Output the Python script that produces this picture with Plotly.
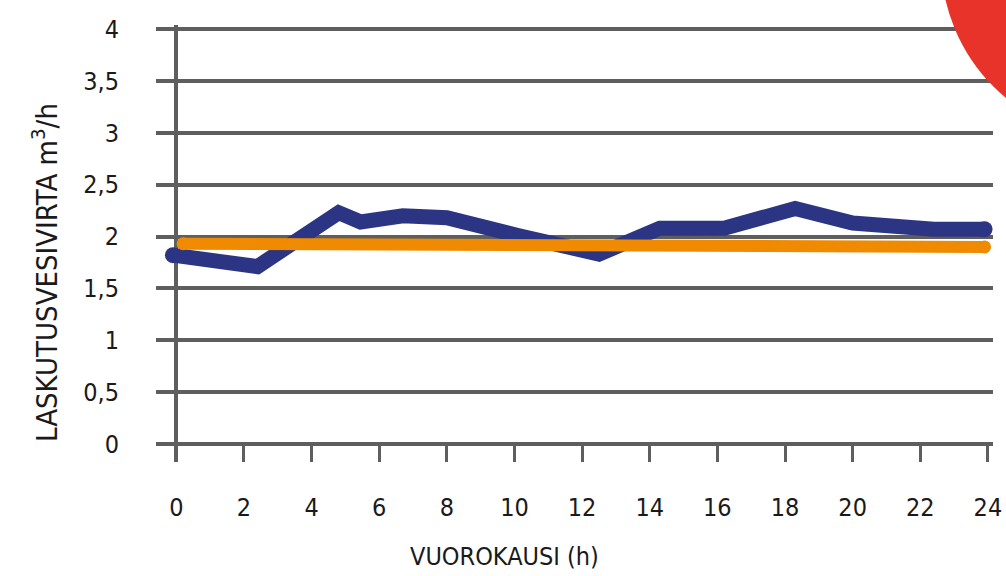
import plotly.graph_objects as go

# Data
hours_blue = [-0.1, 2.4, 4.8, 5.45, 6.7, 8.0, 10.1, 12.5, 14.3, 16.2, 18.3, 20.0, 22.4, 23.9]
flow_blue = [1.82, 1.71, 2.23, 2.14, 2.20, 2.18, 2.01, 1.83, 2.08, 2.08, 2.27, 2.13, 2.07, 2.07]
hours_orange = [0.2, 23.9]
flow_orange = [1.93, 1.90]
x_ticks = list(range(0, 25, 2))
y_ticks = [0, 0.5, 1, 1.5, 2, 2.5, 3, 3.5, 4]
y_tick_text = ["0", "0,5", "1", "1,5", "2", "2,5", "3", "3,5", "4"]

BLUE = "#2B3583"
ORANGE = "#F08A00"
GRID = "#5E5E5E"
TEXT = "#1a1a1a"
FONT = "DejaVu Sans Condensed, Liberation Sans Narrow, sans-serif"

W, H = 1006, 576
ML, MR, MT, MB = 156, 13, 25, 114

fig = go.Figure()
fig.add_trace(go.Scatter(
    x=hours_blue, y=flow_blue, mode="lines+markers",
    line=dict(color=BLUE, width=15),
    marker=dict(color=BLUE, opacity=1, size=[16] + [0] * (len(hours_blue) - 2) + [16], line=dict(width=0)),
    hoverinfo="skip", showlegend=False))
fig.add_trace(go.Scatter(
    x=hours_orange, y=flow_orange, mode="lines+markers",
    line=dict(color=ORANGE, width=12),
    marker=dict(color=ORANGE, opacity=1, size=13, line=dict(width=0)),
    hoverinfo="skip", showlegend=False))

pw = W - ML - MR
ph = H - MT - MB

def px_x(p):
    return (p - ML) / pw

def px_y(p):
    return (H - MB - p) / ph

# decorative red circle in the top-right corner
fig.add_shape(type="circle", xref="paper", yref="paper",
              x0=px_x(941), x1=px_x(1299), y0=px_y(139), y1=px_y(-219),
              fillcolor="#E8332A", line=dict(width=0), layer="above")

fig.update_layout(
    width=W, height=H,
    margin=dict(l=ML, r=MR, t=MT, b=MB, autoexpand=False),
    paper_bgcolor="white", plot_bgcolor="white",
    font=dict(family=FONT, color=TEXT),
    xaxis=dict(
        range=[-0.6, 24.15], tickvals=x_ticks, ticktext=[str(v) for v in x_ticks],
        showgrid=False, zeroline=True, zerolinecolor=GRID, zerolinewidth=4,
        ticks="inside", ticklen=18, tickwidth=3, tickcolor=GRID,
        showline=False, automargin=False,
        tickfont=dict(size=25, family=FONT, color=TEXT),
        ticklabelstandoff=28,
    ),
    yaxis=dict(
        range=[-0.1735, 4.0386], tickvals=y_ticks, ticktext=y_tick_text,
        showgrid=True, gridcolor=GRID, gridwidth=3.5,
        zeroline=True, zerolinecolor=GRID, zerolinewidth=4,
        ticks="", showline=False, automargin=False,
        tickfont=dict(size=25, family=FONT, color=TEXT),
        ticklabelstandoff=36,
    ),
    annotations=[
        dict(text="LASKUTUSVESIVIRTA m<sup>3</sup>/h", xref="paper", yref="paper",
             x=px_x(45), y=px_y(273), textangle=-90, showarrow=False,
             xanchor="center", yanchor="middle",
             font=dict(size=29, family=FONT, color=TEXT)),
        dict(text="VUOROKAUSI (h)", xref="paper", yref="paper",
             x=px_x(504), y=px_y(556), showarrow=False,
             xanchor="center", yanchor="middle",
             font=dict(size=25, family=FONT, color=TEXT)),
    ],
)

fig.write_html("out.html", config={"displayModeBar": False},
               post_script="document.body.style.margin='0px';")
